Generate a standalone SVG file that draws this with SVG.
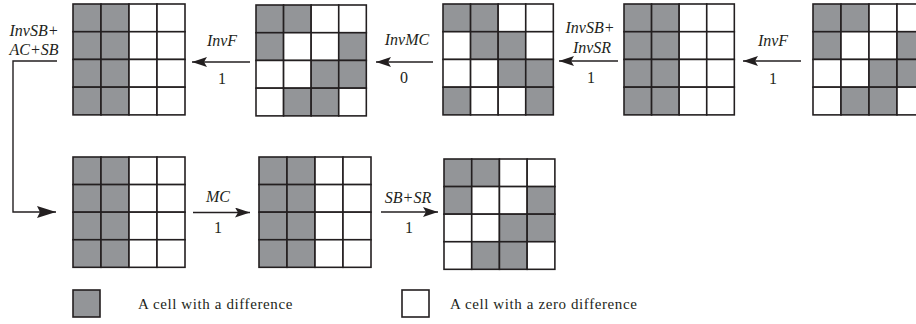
<svg xmlns="http://www.w3.org/2000/svg" xmlns:xlink="http://www.w3.org/1999/xlink" width="916" height="324" viewBox="0 0 916 324">
<style>
.g{fill:#939598;stroke:#231f20;stroke-width:1.6}
.w{fill:#ffffff;stroke:#231f20;stroke-width:1.6}
.ln{fill:none;stroke:#231f20;stroke-width:1.4}
.op{font-family:"Liberation Serif","Times New Roman",serif;font-style:italic;font-size:16px;fill:#231f20;text-anchor:middle}
.num{font-family:"Liberation Serif","Times New Roman",serif;font-size:16px;fill:#231f20;text-anchor:middle}
.lg{font-family:"Liberation Serif","Times New Roman",serif;font-size:15px;letter-spacing:0.6px;fill:#231f20}
</style>
<defs>
<marker id="ah" markerUnits="userSpaceOnUse" markerWidth="15" markerHeight="10" refX="15" refY="5" orient="auto">
<path d="M0,0 L15,5 L0,10 L3,5 Z" fill="#231f20"/>
</marker>
<marker id="ahL" markerUnits="userSpaceOnUse" markerWidth="19" markerHeight="12" refX="19" refY="6" orient="auto">
<path d="M0,0 L19,6 L0,12 L3,6 Z" fill="#231f20"/>
</marker>
<g id="pA">
<rect class="g" x="0" y="0" width="28" height="28"/><rect class="g" x="28" y="0" width="28" height="28"/><rect class="w" x="56" y="0" width="28" height="28"/><rect class="w" x="84" y="0" width="28" height="28"/>
<rect class="g" x="0" y="28" width="28" height="28"/><rect class="g" x="28" y="28" width="28" height="28"/><rect class="w" x="56" y="28" width="28" height="28"/><rect class="w" x="84" y="28" width="28" height="28"/>
<rect class="g" x="0" y="56" width="28" height="28"/><rect class="g" x="28" y="56" width="28" height="28"/><rect class="w" x="56" y="56" width="28" height="28"/><rect class="w" x="84" y="56" width="28" height="28"/>
<rect class="g" x="0" y="84" width="28" height="28"/><rect class="g" x="28" y="84" width="28" height="28"/><rect class="w" x="56" y="84" width="28" height="28"/><rect class="w" x="84" y="84" width="28" height="28"/>
</g>
<g id="pB">
<rect class="g" x="0" y="0" width="28" height="28"/><rect class="g" x="28" y="0" width="28" height="28"/><rect class="w" x="56" y="0" width="28" height="28"/><rect class="w" x="84" y="0" width="28" height="28"/>
<rect class="g" x="0" y="28" width="28" height="28"/><rect class="w" x="28" y="28" width="28" height="28"/><rect class="w" x="56" y="28" width="28" height="28"/><rect class="g" x="84" y="28" width="28" height="28"/>
<rect class="w" x="0" y="56" width="28" height="28"/><rect class="w" x="28" y="56" width="28" height="28"/><rect class="g" x="56" y="56" width="28" height="28"/><rect class="g" x="84" y="56" width="28" height="28"/>
<rect class="w" x="0" y="84" width="28" height="28"/><rect class="g" x="28" y="84" width="28" height="28"/><rect class="g" x="56" y="84" width="28" height="28"/><rect class="w" x="84" y="84" width="28" height="28"/>
</g>
<g id="pC">
<rect class="g" x="0" y="0" width="28" height="28"/><rect class="g" x="28" y="0" width="28" height="28"/><rect class="w" x="56" y="0" width="28" height="28"/><rect class="w" x="84" y="0" width="28" height="28"/>
<rect class="w" x="0" y="28" width="28" height="28"/><rect class="g" x="28" y="28" width="28" height="28"/><rect class="g" x="56" y="28" width="28" height="28"/><rect class="w" x="84" y="28" width="28" height="28"/>
<rect class="w" x="0" y="56" width="28" height="28"/><rect class="w" x="28" y="56" width="28" height="28"/><rect class="g" x="56" y="56" width="28" height="28"/><rect class="g" x="84" y="56" width="28" height="28"/>
<rect class="g" x="0" y="84" width="28" height="28"/><rect class="w" x="28" y="84" width="28" height="28"/><rect class="w" x="56" y="84" width="28" height="28"/><rect class="g" x="84" y="84" width="28" height="28"/>
</g>
</defs>
<rect width="916" height="324" fill="#ffffff"/>
<g id="state1"><use xlink:href="#pA" transform="translate(73,4) scale(1,0.99)"/></g>
<g id="state2"><use xlink:href="#pB" transform="translate(256,5) scale(0.985,0.99)"/></g>
<g id="state3"><use xlink:href="#pC" transform="translate(443,4) scale(0.985,0.99)"/></g>
<g id="state4"><use xlink:href="#pA" transform="translate(624,4) scale(0.985,0.99)"/></g>
<g id="state5"><use xlink:href="#pB" transform="translate(813,4) scale(1,0.99)"/></g>
<g id="state6"><use xlink:href="#pA" transform="translate(73,157) scale(1,0.985)"/></g>
<g id="state7"><use xlink:href="#pA" transform="translate(259,157) scale(1,0.985)"/></g>
<g id="state8"><use xlink:href="#pB" transform="translate(444,159) scale(0.99,0.985)"/></g>
<g id="connectors">
<line class="ln" x1="250" y1="62" x2="192" y2="62" marker-end="url(#ah)"/>
<line class="ln" x1="433" y1="62" x2="376" y2="62" marker-end="url(#ah)"/>
<line class="ln" x1="618" y1="61" x2="559" y2="61" marker-end="url(#ah)"/>
<line class="ln" x1="801" y1="61" x2="743" y2="61" marker-end="url(#ah)"/>
<polyline class="ln" points="57,61 13,61 13,212 56,212" marker-end="url(#ahL)"/>
<line class="ln" x1="193" y1="212.5" x2="250" y2="212.5" marker-end="url(#ah)"/>
<line class="ln" x1="381" y1="212" x2="438" y2="212" marker-end="url(#ah)"/>
</g>
<g id="labels">
<text class="op" x="222" y="46">InvF</text>
<text class="num" x="222" y="84">1</text>
<text class="op" x="407" y="45">InvMC</text>
<text class="num" x="404" y="83">0</text>
<text class="op" x="590" y="33">InvSB+</text>
<text class="op" x="592" y="53">InvSR</text>
<text class="num" x="591" y="83">1</text>
<text class="op" x="773" y="46">InvF</text>
<text class="num" x="773" y="84">1</text>
<text class="op" x="34" y="36">InvSB+</text>
<text class="op" x="34" y="55">AC+SB</text>
<text class="op" x="218" y="202">MC</text>
<text class="num" x="218" y="233">1</text>
<text class="op" x="408" y="203">SB+SR</text>
<text class="num" x="409" y="233">1</text>
</g>
<g id="legend">
<rect class="g" x="73" y="290" width="27" height="27"/>
<text class="lg" x="138" y="309">A cell with a difference</text>
<rect class="w" x="402" y="290" width="27" height="27"/>
<text class="lg" x="450" y="309">A cell with a zero difference</text>
</g>
</svg>
